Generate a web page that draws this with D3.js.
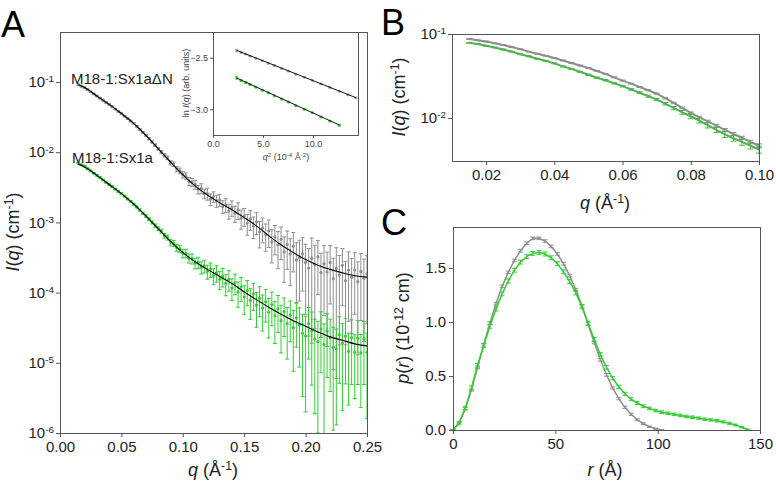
<!DOCTYPE html>
<html><head><meta charset="utf-8">
<script src="https://cdn.jsdelivr.net/npm/d3@7"></script>
<style>
body{margin:0;background:#fff}
svg{display:block}
text{font-family:"Liberation Sans",Arial,Helvetica,sans-serif}
</style>
</head><body>
<svg id="c" width="776" height="484"></svg>
<script>
// ---------------- Panel A: I(q) data (M18-1:Sx1aΔN gray, M18-1:Sx1a green) ----------------
const qA = [0.015,0.0175,0.02,0.0225,0.025,0.0275,0.03,0.0325,0.035,0.0375,0.04,0.0425,0.045,0.0475,0.05,0.0525,0.055,0.0575,0.06,0.0625,0.065,0.0675,0.07,0.0725,0.075,0.0775,0.08,0.0825,0.085,0.0875,0.09,0.0925,0.095,0.0975,0.1,0.1025,0.105,0.1075,0.11,0.1125,0.115,0.1175,0.12,0.1225,0.125,0.1275,0.13,0.1325,0.135,0.1375,0.14,0.1425,0.145,0.1475,0.15,0.1525,0.155,0.1575,0.16,0.1625,0.165,0.1675,0.17,0.1725,0.175,0.1775,0.18,0.1825,0.185,0.1875,0.19,0.1925,0.195,0.1975,0.2,0.2025,0.205,0.2075,0.21,0.2125,0.215,0.2175,0.22,0.2225,0.225,0.2275,0.23,0.2325,0.235,0.2375,0.24,0.2425,0.245,0.2475,0.25];
const grayA = [9.12e-2,8.71e-2,8.32e-2,7.76e-2,7.24e-2,6.76e-2,6.31e-2,5.89e-2,5.50e-2,5.13e-2,
4.79e-2,4.47e-2,4.12e-2,3.80e-2,3.55e-2,3.27e-2,3.02e-2,2.79e-2,2.57e-2,2.34e-2,
2.11e-2,1.91e-2,1.74e-2,1.55e-2,1.40e-2,1.26e-2,1.12e-2,1.00e-2,9.02e-3,8.32e-3,
7.08e-3,6.76e-3,5.75e-3,5.43e-3,4.79e-3,4.57e-3,3.85e-3,3.72e-3,3.47e-3,2.95e-3,
3.05e-3,2.57e-3,2.57e-3,2.14e-3,2.32e-3,2.04e-3,2.09e-3,1.68e-3,1.78e-3,1.46e-3,
1.62e-3,1.35e-3,1.50e-3,1.15e-3,1.23e-3,9.77e-4,1.12e-3,8.91e-4,1.02e-3,7.33e-4,
8.32e-4,6.68e-4,7.59e-4,5.25e-4,6.24e-4,4.79e-4,5.75e-4,3.80e-4,4.84e-4,3.55e-4,
4.57e-4,2.92e-4,3.16e-4,3.55e-4,2.69e-4,2.24e-4,3.09e-4,2.51e-4,3.24e-4,1.93e-4,
2.57e-4,1.97e-4,2.69e-4,1.58e-4,2.21e-4,1.78e-4,2.45e-4,1.48e-4,2.09e-4,1.66e-4,
2.09e-4,1.43e-4,2.00e-4,1.60e-4,1.86e-4];
const grayAErr = [1.8e-3,1.7e-3,1.7e-3,1.6e-3,1.5e-3,1.4e-3,1.3e-3,1.2e-3,1.1e-3,1.0e-3,
1.0e-3,9e-4,9e-4,8e-4,8e-4,7e-4,7e-4,6e-4,6e-4,6e-4,
5e-4,5e-4,5e-4,5e-4,5e-4,5e-4,5e-4,5e-4,5e-4,5e-4,
5e-4,5e-4,5e-4,5e-4,5e-4,5e-4,5e-4,5e-4,5e-4,4e-4,
5e-4,4e-4,5e-4,4e-4,4e-4,4e-4,4e-4,3.5e-4,4e-4,3.5e-4,
4e-4,3.5e-4,4e-4,3.5e-4,3.5e-4,3.2e-4,3.5e-4,3.0e-4,3.5e-4,3.0e-4,
3.2e-4,2.8e-4,3.2e-4,2.6e-4,2.8e-4,2.6e-4,2.8e-4,2.4e-4,2.7e-4,2.3e-4,
2.6e-4,2.2e-4,2.4e-4,2.5e-4,2.2e-4,2.0e-4,2.9e-4,2.2e-4,2.3e-4,1.7e-4,
2.1e-4,1.8e-4,2.0e-4,1.5e-4,2.15e-4,1.6e-4,1.8e-4,1.3e-4,1.7e-4,1.4e-4,
1.6e-4,1.3e-4,1.6e-4,1.4e-4,1.5e-4];
const greenA = [6.92e-3,6.61e-3,6.31e-3,5.82e-3,5.43e-3,5.01e-3,4.68e-3,4.37e-3,4.03e-3,3.72e-3,
3.47e-3,3.24e-3,2.99e-3,2.75e-3,2.57e-3,2.37e-3,2.16e-3,2.00e-3,1.82e-3,1.66e-3,
1.50e-3,1.35e-3,1.23e-3,1.11e-3,1.00e-3,9.02e-4,8.13e-4,7.50e-4,6.46e-4,6.10e-4,
5.25e-4,5.01e-4,4.37e-4,4.22e-4,3.63e-4,3.63e-4,3.09e-4,3.05e-4,2.63e-4,2.69e-4,
2.29e-4,2.40e-4,2.00e-4,2.14e-4,1.74e-4,1.91e-4,1.55e-4,1.70e-4,1.35e-4,1.55e-4,
1.17e-4,1.38e-4,1.02e-4,1.20e-4,8.71e-5,1.07e-4,7.76e-5,9.55e-5,6.61e-5,8.32e-5,
6.03e-5,7.41e-5,5.25e-5,6.76e-5,4.68e-5,5.89e-5,3.98e-5,5.37e-5,3.63e-5,4.79e-5,
3.16e-5,4.37e-5,3.47e-5,2.63e-5,2.40e-5,3.63e-5,2.88e-5,2.19e-5,2.00e-5,3.02e-5,
1.82e-5,2.82e-5,2.29e-5,1.66e-5,1.58e-5,2.51e-5,1.91e-5,2.40e-5,1.45e-5,2.29e-5,
1.41e-5,2.24e-5,1.38e-5,2.19e-5,1.41e-5];
const greenAErr = [1.5e-4,1.4e-4,1.3e-4,1.2e-4,1.1e-4,1.0e-4,1.0e-4,9e-5,9e-5,8e-5,
8e-5,7e-5,7e-5,7e-5,6e-5,6e-5,6e-5,5e-5,5e-5,5e-5,
5e-5,5e-5,5e-5,5e-5,5e-5,5e-5,5e-5,5e-5,5e-5,5e-5,
5e-5,5e-5,5e-5,5e-5,5e-5,5e-5,4.5e-5,5e-5,4.5e-5,5e-5,
4.5e-5,5e-5,4.5e-5,5e-5,4.5e-5,5e-5,4.5e-5,5e-5,4.5e-5,5e-5,
4e-5,4.5e-5,4e-5,4.5e-5,3.8e-5,4.2e-5,3.6e-5,4.0e-5,3.4e-5,3.8e-5,
3.2e-5,3.6e-5,3.0e-5,3.4e-5,2.8e-5,3.2e-5,2.6e-5,3.0e-5,2.5e-5,2.8e-5,
2.4e-5,2.7e-5,2.6e-5,2.3e-5,2.2e-5,2.5e-5,2.4e-5,2.0e-5,1.9e-5,2.3e-5,
1.75e-5,2.2e-5,1.9e-5,1.55e-5,1.45e-5,2.0e-5,1.7e-5,1.9e-5,1.2e-5,1.8e-5,
1.1e-5,1.75e-5,1.15e-5,1.7e-5,1.25e-5];
// fitted curves (black lines)
const qFit = [0.015,0.02,0.03,0.04,0.05,0.06,0.07,0.08,0.09,0.10,0.11,0.12,0.13,0.14,0.15,0.16,0.17,0.18,0.19,0.20,0.21,0.22,0.23,0.24,0.25];
const grayFit = [9.12e-2,8.32e-2,6.31e-2,4.79e-2,3.55e-2,2.57e-2,1.74e-2,1.12e-2,7.24e-3,4.79e-3,3.31e-3,2.45e-3,1.91e-3,1.51e-3,1.17e-3,8.91e-4,6.46e-4,4.79e-4,3.72e-4,2.95e-4,2.45e-4,2.14e-4,1.91e-4,1.74e-4,1.66e-4];
const greenFit = [6.76e-3,6.17e-3,4.68e-3,3.47e-3,2.57e-3,1.82e-3,1.23e-3,8.13e-4,5.37e-4,3.72e-4,2.75e-4,2.14e-4,1.70e-4,1.35e-4,1.02e-4,7.94e-5,6.17e-5,4.90e-5,3.98e-5,3.31e-5,2.75e-5,2.34e-5,2.09e-5,1.86e-5,1.74e-5];
const aXTicks = [0, 0.05, 0.10, 0.15, 0.20, 0.25];
const aYTicks = [1e-1, 1e-2, 1e-3, 1e-4, 1e-5, 1e-6];
const seriesLabels = ["M18-1:Sx1a\u0394N", "M18-1:Sx1a"];

// ---------------- Inset: Guinier plot ----------------
const insetQ2Gray = [2.37,2.8,3.27,3.7,4.27,4.93,5.53,6.13,6.87,7.53,8.27,9.13,9.93,10.8,11.7,12.63,13.5,14.3];
const insetLnGray = [-2.43,-2.45,-2.465,-2.485,-2.505,-2.53,-2.555,-2.575,-2.605,-2.63,-2.66,-2.69,-2.72,-2.755,-2.79,-2.825,-2.86,-2.89];
const insetErrGray = [0.012,0.008,0.006,0.006,0.005,0.005,0.005,0.005,0.005,0.005,0.005,0.005,0.005,0.005,0.005,0.005,0.006,0.006];
const insetQ2Green = [2.37,2.8,3.27,3.7,4.27,4.93,5.53,6.13,6.87,7.53,8.27,9.13,9.93,10.8,11.7,12.63];
const insetLnGreen = [-2.695,-2.72,-2.74,-2.76,-2.785,-2.815,-2.84,-2.87,-2.90,-2.93,-2.965,-3.00,-3.035,-3.075,-3.115,-3.155];
const insetErrGreen = [0.014,0.009,0.007,0.006,0.006,0.006,0.006,0.006,0.006,0.006,0.006,0.006,0.006,0.006,0.006,0.006];
const insetFitQ2Gray = [2.37, 14.3];
const insetFitLnGray = [-2.428, -2.888];
const insetFitQ2Green = [2.37, 12.63];
const insetFitLnGreen = [-2.697, -3.153];
const insetXTicks = [0, 5, 10];
const insetYTicks = [-2.5, -3.0];

// ---------------- Panel B: low-q region ----------------
const qB = [0.015,0.0175,0.02,0.0225,0.025,0.0275,0.03,0.0325,0.035,0.0375,0.04,0.0425,0.045,0.0475,0.05,0.0525,0.055,0.0575,0.06,0.0625,0.065,0.0675,0.07,0.0725,0.075,0.0775,0.08,0.0825,0.085,0.0875,0.09,0.0925,0.095,0.0975,0.1];
const grayB = [8.71e-2,8.41e-2,8.13e-2,7.76e-2,7.41e-2,7.00e-2,6.61e-2,6.17e-2,5.82e-2,5.50e-2,5.19e-2,4.84e-2,4.52e-2,4.22e-2,3.94e-2,3.63e-2,3.35e-2,3.05e-2,2.79e-2,2.57e-2,2.34e-2,2.14e-2,1.95e-2,1.72e-2,1.51e-2,1.32e-2,1.15e-2,1.02e-2,9.12e-3,8.13e-3,7.24e-3,6.46e-3,5.82e-3,5.19e-3,4.68e-3];
const grayBErr = [8e-4,8e-4,8e-4,7e-4,7e-4,7e-4,6e-4,6e-4,6e-4,5e-4,5e-4,5e-4,5e-4,4e-4,4e-4,4e-4,4e-4,4e-4,4e-4,3e-4,3e-4,3e-4,3e-4,3e-4,3e-4,3e-4,3e-4,3e-4,3e-4,3e-4,2.5e-4,2.5e-4,2.5e-4,2.5e-4,2.5e-4];
const greenB = [7.85e-2,7.59e-2,7.24e-2,6.92e-2,6.53e-2,6.17e-2,5.75e-2,5.43e-2,5.07e-2,4.79e-2,4.47e-2,4.12e-2,3.85e-2,3.55e-2,3.27e-2,3.02e-2,2.82e-2,2.60e-2,2.40e-2,2.19e-2,2.00e-2,1.82e-2,1.66e-2,1.48e-2,1.32e-2,1.17e-2,1.05e-2,9.33e-3,8.22e-3,7.24e-3,6.38e-3,5.75e-3,5.19e-3,4.68e-3,4.22e-3];
const greenBErr = [9e-4,9e-4,9e-4,8e-4,8e-4,8e-4,7e-4,7e-4,7e-4,6e-4,6e-4,6e-4,6e-4,5e-4,5e-4,5e-4,5e-4,5e-4,5e-4,5e-4,5e-4,5e-4,5e-4,5e-4,5e-4,6e-4,7e-4,6e-4,6e-4,5e-4,5e-4,4.5e-4,4.5e-4,4e-4,4e-4];
const bXTicks = [0.02, 0.04, 0.06, 0.08, 0.10];
const bYTicks = [1e-1, 1e-2];

// ---------------- Panel C: p(r) ----------------
const rGray = [0,3,6,9,12,15,18,21,24,27,30,33,36,39,42,45,48,51,54,57,60,63,66,69,72,75,78,81,84,87,90,93,96,99,102];
const pGray = [0,0.07,0.20,0.37,0.58,0.79,0.99,1.17,1.33,1.46,1.57,1.66,1.73,1.775,1.775,1.75,1.70,1.63,1.54,1.43,1.30,1.15,0.98,0.81,0.65,0.51,0.39,0.29,0.21,0.145,0.095,0.058,0.030,0.012,0];
const pGrayErr = [0.004,0.008,0.01,0.01,0.012,0.012,0.012,0.012,0.012,0.012,0.012,0.012,0.012,0.012,0.012,0.012,0.012,0.012,0.012,0.012,0.012,0.012,0.012,0.012,0.012,0.012,0.01,0.01,0.01,0.01,0.008,0.008,0.006,0.005,0.004];
const rGreen = [0,3,6,9,12,15,18,21,24,27,30,33,36,39,42,45,48,51,54,57,60,63,66,69,72,75,78,81,84,87,90,93,96,99,102,105,108,111,114,117,120,123,126,129,132,135,138,141,144];
const pGreen = [0,0.06,0.20,0.39,0.60,0.78,0.96,1.12,1.26,1.38,1.48,1.555,1.605,1.635,1.645,1.63,1.595,1.54,1.465,1.375,1.27,1.14,0.99,0.84,0.70,0.58,0.48,0.40,0.335,0.285,0.25,0.22,0.20,0.18,0.165,0.155,0.145,0.135,0.125,0.118,0.11,0.10,0.093,0.085,0.075,0.062,0.046,0.025,0.005];
const pGreenErr = [0.004,0.012,0.015,0.018,0.018,0.018,0.018,0.018,0.018,0.018,0.018,0.018,0.018,0.018,0.018,0.018,0.018,0.018,0.018,0.018,0.018,0.018,0.018,0.018,0.016,0.016,0.015,0.015,0.014,0.014,0.013,0.013,0.012,0.012,0.012,0.012,0.012,0.012,0.012,0.012,0.011,0.011,0.011,0.011,0.01,0.01,0.008,0.006,0.004];
const cXTicks = [0, 50, 100, 150];
const cYTicks = [0, 0.5, 1.0, 1.5];

// ---------------- drawing ----------------
const GRAY = "#8e8e8e", GREEN = "#33cc33", GREEN_B = "#4cb44c", FRAME = "#555", TXT = "#222";
const svg = d3.select("#c");

function rich(sel, parts, supShift) {
  const s = supShift || 6;
  let up = false;
  parts.forEach(p => {
    const t = sel.append("tspan").text(p.t);
    if (p.i) t.attr("font-style", "italic");
    if (p.sup) { t.attr("dy", -s).attr("font-size", "0.68em"); up = true; }
    else if (up) { t.attr("dy", s); up = false; }
  });
  return sel;
}
function frame(x0, x1, y0, y1) {
  svg.append("rect").attr("x", x0 + 0.5).attr("y", y0 + 0.5).attr("width", x1 - x0).attr("height", y1 - y0)
    .attr("fill", "none").attr("stroke", FRAME).attr("stroke-width", 1);
}
function styleAxis(g, fs) {
  g.select(".domain").remove();
  g.selectAll(".tick line").attr("stroke", FRAME);
  g.selectAll(".tick text").attr("fill", TXT).attr("font-size", fs + "px")
    .attr("font-family", '"Liberation Sans",Arial,sans-serif');
}
function powLabels(g) {
  g.selectAll(".tick text").each(function (d) {
    const t = d3.select(this); t.text("");
    t.append("tspan").text("10");
    t.append("tspan").attr("dy", "-0.5em").attr("font-size", "0.66em").text(String(Math.round(Math.log10(d))));
  });
}
function errBars(g, xs, vs, es, X, Y, color, capW, lw, ymin) {
  xs.forEach((q, i) => {
    const v = vs[i], e = es[i];
    const lo = Math.max(v - e, ymin), hi = v + e;
    const x = X(q), y1 = Y(lo), y2 = Y(hi);
    g.append("line").attr("x1", x).attr("x2", x).attr("y1", y1).attr("y2", y2)
      .attr("stroke", color).attr("stroke-width", lw);
    g.append("line").attr("x1", x - capW / 2).attr("x2", x + capW / 2).attr("y1", y2).attr("y2", y2)
      .attr("stroke", color).attr("stroke-width", lw);
    if (v - e > ymin) g.append("line").attr("x1", x - capW / 2).attr("x2", x + capW / 2).attr("y1", y1).attr("y2", y1)
      .attr("stroke", color).attr("stroke-width", lw);
  });
}

// Panel letters
[["A", 1, 37], ["B", 381, 35], ["C", 381, 235]].forEach(([t, x, y]) =>
  svg.append("text").attr("x", x).attr("y", y).attr("font-size", "36px").attr("fill", "#000").text(t));

// ===== Panel A =====
const ax = d3.scaleLinear().domain([0, 0.25]).range([60, 367]);
const ay = d3.scaleLog().domain([1e-6, 0.515]).range([433, 32]);
svg.append("defs").append("clipPath").attr("id", "clipA").append("rect")
  .attr("x", 60).attr("y", 32).attr("width", 307).attr("height", 401);
const gA = svg.append("g").attr("clip-path", "url(#clipA)");
errBars(gA.append("g"), qA, grayA, grayAErr, ax, ay, GRAY, 4, 1, 1e-7);
gA.append("g").selectAll("circle").data(qA).join("circle")
  .attr("cx", d => ax(d)).attr("cy", (d, i) => ay(grayA[i])).attr("r", 1.6).attr("fill", GRAY);
errBars(gA.append("g"), qA, greenA, greenAErr, ax, ay, GREEN, 4, 1, 1e-7);
gA.append("g").selectAll("circle").data(qA).join("circle")
  .attr("cx", d => ax(d)).attr("cy", (d, i) => ay(greenA[i])).attr("r", 1.6).attr("fill", GREEN);
const fitLine = vals => d3.line().x(d => ax(d)).y((d, i) => ay(vals[i])).curve(d3.curveMonotoneX);
gA.append("path").attr("d", fitLine(grayFit)(qFit)).attr("fill", "none").attr("stroke", "#000").attr("stroke-width", 1.1);
gA.append("path").attr("d", fitLine(greenFit)(qFit)).attr("fill", "none").attr("stroke", "#000").attr("stroke-width", 1.1);
frame(60, 367, 32, 433);
const axA = svg.append("g").attr("transform", "translate(0,433)")
  .call(d3.axisBottom(ax).tickValues(aXTicks).tickFormat(d3.format(".2f")).tickSize(4).tickPadding(4));
styleAxis(axA, 15);
const ayA = svg.append("g").attr("transform", "translate(60,0)")
  .call(d3.axisLeft(ay).tickValues(aYTicks).tickSize(4).tickPadding(2));
styleAxis(ayA, 15); powLabels(ayA);
svg.append("text").attr("x", 71).attr("y", 84).attr("font-size", "15px").attr("fill", TXT).text(seriesLabels[0]);
svg.append("text").attr("x", 72).attr("y", 163).attr("font-size", "15px").attr("fill", TXT).text(seriesLabels[1]);
rich(svg.append("text").attr("transform", "translate(19,232) rotate(-90)").attr("text-anchor", "middle")
  .attr("font-size", "18px").attr("fill", TXT),
  [{t: "I", i: true}, {t: "("}, {t: "q", i: true}, {t: ") (cm"}, {t: "-1", sup: true}, {t: ")"}]);
rich(svg.append("text").attr("x", 213).attr("y", 476).attr("text-anchor", "middle")
  .attr("font-size", "18px").attr("fill", TXT),
  [{t: "q", i: true}, {t: " (\u00c5"}, {t: "-1", sup: true}, {t: ")"}]);

// ===== Inset =====
const ix = d3.scaleLinear().domain([0, 14.5]).range([213, 358]);
const iy = d3.scaleLinear().domain([-3.25, -2.25]).range([135, 32]);
svg.append("rect").attr("x", 213).attr("y", 32).attr("width", 145).attr("height", 103).attr("fill", "#fff");
const gI = svg.append("g");
errBars(gI.append("g"), insetQ2Gray, insetLnGray, insetErrGray, ix, iy, "#999", 3, 0.8, -10);
gI.append("g").selectAll("circle").data(insetQ2Gray).join("circle")
  .attr("cx", d => ix(d)).attr("cy", (d, i) => iy(insetLnGray[i])).attr("r", 1.4).attr("fill", "#a0a0a0");
errBars(gI.append("g"), insetQ2Green, insetLnGreen, insetErrGreen, ix, iy, GREEN, 3, 0.8, -10);
gI.append("g").selectAll("circle").data(insetQ2Green).join("circle")
  .attr("cx", d => ix(d)).attr("cy", (d, i) => iy(insetLnGreen[i])).attr("r", 1.5).attr("fill", GREEN);
const iLine = vals => d3.line().x(d => ix(d)).y((d, i) => iy(vals[i]));
gI.append("path").attr("d", iLine(insetFitLnGray)(insetFitQ2Gray)).attr("stroke", "#111").attr("stroke-width", 1).attr("fill", "none");
gI.append("path").attr("d", iLine(insetFitLnGreen)(insetFitQ2Green)).attr("stroke", "#111").attr("stroke-width", 1).attr("fill", "none");
frame(213, 358, 32, 135);
const ixA = svg.append("g").attr("transform", "translate(0,135)")
  .call(d3.axisBottom(ix).tickValues(insetXTicks).tickFormat(d3.format(".1f")).tickSize(3).tickPadding(3));
styleAxis(ixA, 9); ixA.selectAll(".tick text").attr("fill", "#444");
const iyA = svg.append("g").attr("transform", "translate(213,0)")
  .call(d3.axisLeft(iy).tickValues(insetYTicks).tickFormat(d3.format(".1f")).tickSize(3).tickPadding(2));
styleAxis(iyA, 9); iyA.selectAll(".tick text").attr("fill", "#444");
rich(svg.append("text").attr("transform", "translate(189,83) rotate(-90)").attr("text-anchor", "middle")
  .attr("font-size", "9px").attr("fill", "#444"),
  [{t: "ln "}, {t: "I", i: true}, {t: "("}, {t: "q", i: true}, {t: ") (arb. units)"}], 3);
rich(svg.append("text").attr("x", 286).attr("y", 160).attr("text-anchor", "middle")
  .attr("font-size", "9px").attr("fill", "#444"),
  [{t: "q", i: true}, {t: "2", sup: true}, {t: " (10"}, {t: "-4", sup: true}, {t: " \u00c5"}, {t: "-2", sup: true}, {t: ")"}], 3);

// ===== Panel B =====
const bx = d3.scaleLinear().domain([0.01, 0.10]).range([452, 759]);
const by = d3.scaleLog().domain([0.00308, 0.1]).range([161, 34]);
const gB = svg.append("g");
const bLine = vals => d3.line().x(d => bx(d)).y((d, i) => by(vals[i]));
gB.append("path").attr("d", bLine(grayB)(qB)).attr("fill", "none").attr("stroke", GRAY).attr("stroke-width", 2);
errBars(gB.append("g"), qB, grayB, grayBErr, bx, by, GRAY, 6, 1, 1e-5);
gB.append("path").attr("d", bLine(greenB)(qB)).attr("fill", "none").attr("stroke", GREEN_B).attr("stroke-width", 2);
errBars(gB.append("g"), qB, greenB, greenBErr, bx, by, GREEN_B, 6, 1, 1e-5);
frame(452, 759, 34, 161);
const bxA = svg.append("g").attr("transform", "translate(0,161)")
  .call(d3.axisBottom(bx).tickValues(bXTicks).tickFormat(d3.format(".2f")).tickSize(4).tickPadding(4));
styleAxis(bxA, 15);
const byA = svg.append("g").attr("transform", "translate(452,0)")
  .call(d3.axisLeft(by).tickValues(bYTicks).tickSize(4).tickPadding(2));
styleAxis(byA, 15); powLabels(byA);
rich(svg.append("text").attr("transform", "translate(405,97) rotate(-90)").attr("text-anchor", "middle")
  .attr("font-size", "18px").attr("fill", TXT),
  [{t: "I", i: true}, {t: "("}, {t: "q", i: true}, {t: ") (cm"}, {t: "-1", sup: true}, {t: ")"}]);
rich(svg.append("text").attr("x", 605).attr("y", 209).attr("text-anchor", "middle")
  .attr("font-size", "18px").attr("fill", TXT),
  [{t: "q", i: true}, {t: " (\u00c5"}, {t: "-1", sup: true}, {t: ")"}]);

// ===== Panel C =====
const cx = d3.scaleLinear().domain([0, 150]).range([453, 760]);
const cy = d3.scaleLinear().domain([0, 1.88]).range([430, 227]);
const gC = svg.append("g");
const cLine = vals => d3.line().x(d => cx(d)).y((d, i) => cy(vals[i]));
gC.append("path").attr("d", cLine(pGray)(rGray)).attr("fill", "none").attr("stroke", GRAY).attr("stroke-width", 1.5);
errBars(gC.append("g"), rGray, pGray, pGrayErr, cx, cy, GRAY, 5, 1, -1);
gC.append("path").attr("d", cLine(pGreen)(rGreen)).attr("fill", "none").attr("stroke", GREEN).attr("stroke-width", 1.5);
errBars(gC.append("g"), rGreen, pGreen, pGreenErr, cx, cy, GREEN, 5, 1, -1);
frame(453, 760, 227, 430);
const cxA = svg.append("g").attr("transform", "translate(0,430)")
  .call(d3.axisBottom(cx).tickValues(cXTicks).tickFormat(d3.format("d")).tickSize(4).tickPadding(4));
styleAxis(cxA, 15);
const cyA = svg.append("g").attr("transform", "translate(453,0)")
  .call(d3.axisLeft(cy).tickValues(cYTicks).tickFormat(d3.format(".1f")).tickSize(4).tickPadding(3));
styleAxis(cyA, 15);
rich(svg.append("text").attr("transform", "translate(409,328) rotate(-90)").attr("text-anchor", "middle")
  .attr("font-size", "18px").attr("fill", TXT),
  [{t: "p", i: true}, {t: "("}, {t: "r", i: true}, {t: ") (10"}, {t: "-12", sup: true}, {t: " cm)"}]);
rich(svg.append("text").attr("x", 605).attr("y", 476).attr("text-anchor", "middle")
  .attr("font-size", "18px").attr("fill", TXT),
  [{t: "r", i: true}, {t: " (\u00c5)"}]);
</script>
</body></html>
